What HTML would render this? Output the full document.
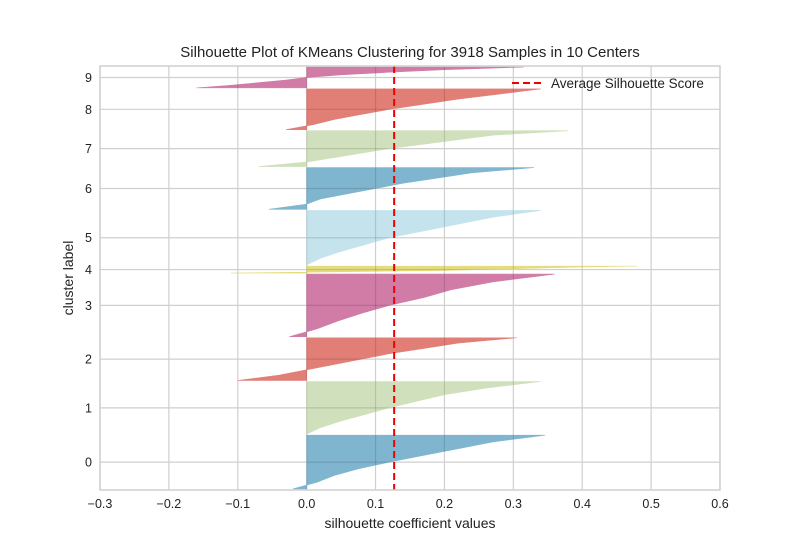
<!DOCTYPE html>
<html><head><meta charset="utf-8"><style>
body{margin:0;background:#fff;font-family:"Liberation Sans",sans-serif}
</style></head><body>
<svg id="chart" width="800" height="550" xmlns="http://www.w3.org/2000/svg">
<defs><clipPath id="markclip"></clipPath></defs>
<rect width="800" height="550" fill="#fff"/>
<text x="410" y="57" text-anchor="middle" font-size="15" fill="#222" font-family="Liberation Sans, sans-serif">Silhouette Plot of KMeans Clustering for 3918 Samples in 10 Centers</text>
<g id="gridbg"></g>
<g id="marks"></g>
<g id="grid" clip-path="url(#markclip)"></g>
<g id="axes"></g>
<text x="410" y="528" text-anchor="middle" font-size="14" fill="#222">silhouette coefficient values</text>
<text x="73" y="278" text-anchor="middle" font-size="14" fill="#222" transform="rotate(-90 73 278)">cluster label</text>
<g>
<line x1="512" y1="83" x2="542" y2="83" stroke="#e00" stroke-width="2" stroke-dasharray="7,4"/>
<text x="551" y="88" font-size="13.5" fill="#222">Average Silhouette Score</text>
</g>
</svg>
<script>
const clusterLabels=["0","1","2","3","4","5","6","7","8","9"];
const clusterSizes=[513,503,408,598,66,522,399,342,389,199];
const profile0=[0.346,0.27,0.22,0.17,0.12,0.075,0.04,0.015,-0.02];
const profile1=[0.34,0.26,0.2,0.16,0.12,0.085,0.05,0.02,0.0];
const profile2=[0.305,0.22,0.17,0.12,0.08,0.04,0.0,-0.04,-0.1];
const profile3=[0.36,0.27,0.21,0.17,0.12,0.08,0.045,0.015,-0.025];
const profile4=[0.48,0.4,0.35,0.3,0.25,0.2,0.1,0.0,-0.11];
const profile5=[0.34,0.27,0.22,0.17,0.12,0.085,0.05,0.02,0.0];
const profile6=[0.33,0.24,0.19,0.14,0.1,0.06,0.02,0.0,-0.055];
const profile7=[0.38,0.27,0.22,0.17,0.12,0.08,0.04,0.0,-0.07];
const profile8=[0.34,0.28,0.22,0.17,0.12,0.08,0.04,0.01,-0.03];
const profile9=[0.315,0.2,0.12,0.05,0.0,-0.03,-0.07,-0.11,-0.16];
const profiles=[profile0,profile1,profile2,profile3,profile4,profile5,profile6,profile7,profile8,profile9];
const xTicks=[-0.3,-0.2,-0.1,0.0,0.1,0.2,0.3,0.4,0.5,0.6];
const xTickLabels=["−0.3","−0.2","−0.1","0.0","0.1","0.2","0.3","0.4","0.5","0.6"];
const avgScore=0.127;
const colors=["#7fb5cf","#d0e0bc","#e17f77","#d07ca7","#e3db7c","#c4e3ec","#7fb5cf","#d0e0bc","#e17f77","#d07ca7"];
const NS="http://www.w3.org/2000/svg";
const L=100,R=720,T=66,B=490;
let total=10;clusterSizes.forEach(s=>total+=s+10);
const X=v=>L+(v+0.3)/0.9*(R-L);
const Y=v=>B-v/total*(B-T);
function mk(tag,attrs,parent){const e=document.createElementNS(NS,tag);for(const k in attrs)e.setAttribute(k,attrs[k]);parent.appendChild(e);return e;}
const grid=document.getElementById('grid'),gridbg=document.getElementById('gridbg'),marks=document.getElementById('marks'),axes=document.getElementById('axes'),clip=document.getElementById('markclip');
xTicks.forEach((t,i)=>{
 const gb=mk('line',{x1:X(t),x2:X(t),y1:T,y2:B,stroke:'#cfcfcf','stroke-width':1.2},gridbg);
 
 
 const g=mk('line',{x1:X(t),x2:X(t),y1:T,y2:B,stroke:'rgba(0,0,0,0.13)','stroke-width':1.2},grid);
 
 
 const tx=mk('text',{x:X(t),y:B+18,'text-anchor':'middle','font-size':12.5,fill:'#222'},axes);
 tx.textContent=xTickLabels[i];
 
 
});
let yl=10;
clusterSizes.forEach((s,ci)=>{
 const mid=Y(yl+s/2);
 const gb=mk('line',{x1:L,x2:R,y1:mid,y2:mid,stroke:'#cfcfcf','stroke-width':1.2},gridbg);
 
 
 const g=mk('line',{x1:L,x2:R,y1:mid,y2:mid,stroke:'rgba(0,0,0,0.13)','stroke-width':1.2},grid);
 
 
 const tx=mk('text',{x:L-8,y:mid+4.5,'text-anchor':'end','font-size':12.5,fill:'#222'},axes);
 tx.textContent=clusterLabels[ci];
 
 
 const p=profiles[ci];const n=p.length;
 let pts=[];
 pts.push(X(0)+','+Y(yl+s));
 p.forEach((v,i)=>{pts.push(X(v)+','+Y(yl+s-i/(n-1)*s));});
 pts.push(X(0)+','+Y(yl));
 const poly=mk('polygon',{points:pts.join(' '),fill:colors[ci],stroke:colors[ci],'stroke-width':0.6},marks);
 
 
 const cp=mk('polygon',{points:pts.join(' ')},clip);
 
 
 yl+=s+10;
});
const av=mk('line',{x1:X(avgScore),x2:X(avgScore),y1:T,y2:B,stroke:'#e00','stroke-width':2,'stroke-dasharray':'7,4'},axes);


const fr=mk('rect',{x:L,y:T,width:R-L,height:B-T,fill:'none',stroke:'#cfcfcf','stroke-width':1.5},axes);


</script>
</body></html>
